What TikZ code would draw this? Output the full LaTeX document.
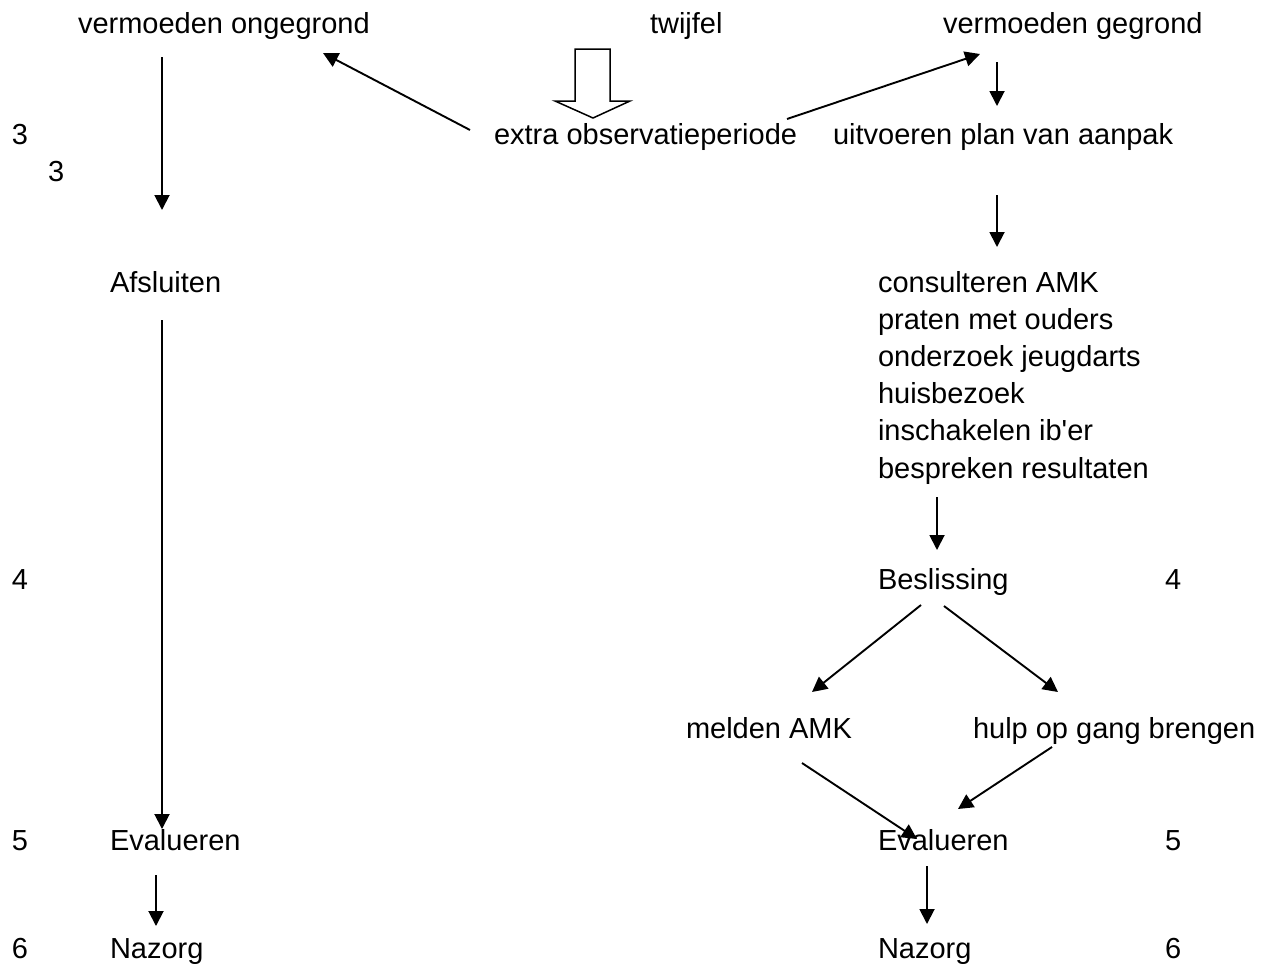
\documentclass[tikz,border=0pt]{standalone}
\usepackage{fontspec}
\setmainfont{Liberation Sans}
\usetikzlibrary{arrows.meta}
\tikzset{
  lbl/.style={anchor=base west, inner sep=0pt, outer sep=0pt, font=\fontsize{29}{37.2}\selectfont},
  conn/.style={line width=1.9pt, -{Triangle[length=15pt,width=15pt]}},
  hollow/.style={line width=1.5pt, fill=white, line join=miter},
}
\begin{document}
\begin{tikzpicture}[x=1pt,y=-1pt]
\useasboundingbox (0,0) rectangle (1274,972);
% texts
\node[lbl] (vo) at (78,33) {vermoeden ongegrond};
\node[lbl] (tw) at (650,33) {twijfel};
\node[lbl] (vg) at (943,33) {vermoeden gegrond};
\node[lbl] (eo) at (494,144) {extra observatieperiode};
\node[lbl] (up) at (833,144) {uitvoeren plan van aanpak};
\node[lbl] (n3a) at (12,144) {3};
\node[lbl] (n3b) at (48,181) {3};
\node[lbl] (af) at (110,292) {Afsluiten};
\node[lbl, align=left] (ls) at (878,478) {consulteren AMK\\praten met ouders\\onderzoek jeugdarts\\huisbezoek\\inschakelen ib\textquotesingle er\\bespreken resultaten};
\node[lbl] (n4a) at (12,589) {4};
\node[lbl] (be) at (878,589) {Beslissing};
\node[lbl] (n4b) at (1165,589) {4};
\node[lbl] (ma) at (686,738) {melden AMK};
\node[lbl] (hg) at (973,738) {hulp op gang brengen};
\node[lbl] (n5a) at (12,850) {5};
\node[lbl] (evl) at (110,850) {Evalueren};
\node[lbl] (evr) at (878,850) {Evalueren};
\node[lbl] (n5b) at (1165,850) {5};
\node[lbl] (n6a) at (12,958) {6};
\node[lbl] (nzl) at (110,958) {Nazorg};
\node[lbl] (nzr) at (878,958) {Nazorg};
\node[lbl] (n6b) at (1165,958) {6};
% connector end points
\coordinate (a1s) at (162,57);  \coordinate (a1e) at (162,210);
\coordinate (a2s) at (470,130); \coordinate (a2e) at (323,53);
\coordinate (a3s) at (787,119); \coordinate (a3e) at (980,54);
\coordinate (a4s) at (997,62);  \coordinate (a4e) at (997,106);
\coordinate (a5s) at (997,195); \coordinate (a5e) at (997,247);
\coordinate (a6s) at (162,320); \coordinate (a6e) at (162,829);
\coordinate (a7s) at (937,497); \coordinate (a7e) at (937,550);
\coordinate (a8s) at (921,605); \coordinate (a8e) at (812,692);
\coordinate (a9s) at (944,606); \coordinate (a9e) at (1058,692);
\coordinate (b1s) at (802,763); \coordinate (b1e) at (917,839);
\coordinate (b2s) at (1052,747); \coordinate (b2e) at (958,809);
\coordinate (b3s) at (156,875); \coordinate (b3e) at (156,926);
\coordinate (b4s) at (927,866); \coordinate (b4e) at (927,924);
% connectors
\draw[conn] (a1s) -- (a1e);
\draw[conn] (a2s) -- (a2e);
\draw[conn] (a3s) -- (a3e);
\draw[conn] (a4s) -- (a4e);
\draw[conn] (a5s) -- (a5e);
\draw[conn] (a6s) -- (a6e);
\draw[conn] (a7s) -- (a7e);
\draw[conn] (a8s) -- (a8e);
\draw[conn] (a9s) -- (a9e);
\draw[conn] (b1s) -- (b1e);
\draw[conn] (b2s) -- (b2e);
\draw[conn] (b3s) -- (b3e);
\draw[conn] (b4s) -- (b4e);
% hollow block arrow
\draw[hollow] (575,49) -- (610,49) -- (610,101) -- (630,101) -- (593,118) -- (555,101) -- (575,101) -- cycle;
\end{tikzpicture}
\end{document}
